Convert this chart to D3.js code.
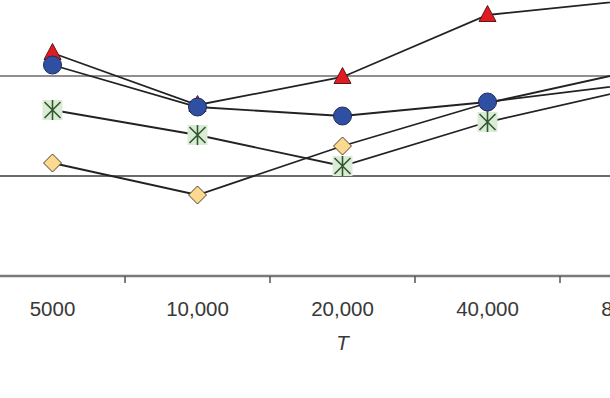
<!DOCTYPE html>
<html>
<head>
<meta charset="utf-8">
<script src="https://cdn.jsdelivr.net/npm/d3@7"></script>
<style>
  body { margin: 0; background: #fff; overflow: hidden; }
  svg { display: block; }
</style>
</head>
<body>
<script>
// categories on the x axis (T)
var categories = ["5000", "10,000", "20,000", "40,000", "80,000"];

// series values (y axis labels are cut off, units: gridline steps)
var triangleVals = [2.23, 1.71, 1.99, 2.61, 2.76];
var circleVals   = [2.11, 1.69, 1.60, 1.74, 1.92];
var starVals     = [1.66, 1.41, 1.10, 1.54, 1.87];
var diamondVals  = [1.13, 0.81, 1.30, 1.73, 2.05];

var gridVals = [1, 2];

var width = 610,
    height = 398;

var svg = d3.select("body").append("svg")
    .attr("width", width)
    .attr("height", height);

// the chart is cropped on the left and the right, so the band range runs past the frame
var x = d3.scaleBand()
    .domain(categories)
    .range([-20, 705]);

var y = d3.scaleLinear()
    .domain([0, 3])
    .range([276, -24]);

// gridlines
svg.selectAll("line.grid")
    .data(gridVals).enter()
    .append("line")
    .attr("class", "grid")
    .attr("x1", 0)
    .attr("x2", width)
    .attr("y1", function(d){ return y(d); })
    .attr("y2", function(d){ return y(d); })
    .attr("stroke", function(d){ return d == 2 ? "#6a6a6a" : "#3a3a3a"; })
    .attr("stroke-width", 1.7);

// x axis, ticks between categories
var bounds = categories.slice(1).map(function(c){ return x(c); });

svg.append("line")
    .attr("x1", 0)
    .attr("x2", width)
    .attr("y1", y(0))
    .attr("y2", y(0))
    .attr("stroke", "#7a7a7a")
    .attr("stroke-width", 2.4);

svg.selectAll("line.tick")
    .data(bounds).enter()
    .append("line")
    .attr("class", "tick")
    .attr("x1", function(d){ return d; })
    .attr("x2", function(d){ return d; })
    .attr("y1", y(0))
    .attr("y2", y(0) + 7)
    .attr("stroke", "#555")
    .attr("stroke-width", 1.5);

svg.selectAll("text.tlabel")
    .data(categories).enter()
    .append("text")
    .attr("class", "tlabel")
    .attr("x", function(d){ return x(d) + x.bandwidth() / 2; })
    .attr("y", 316)
    .attr("text-anchor", "middle")
    .style("font-family", "Liberation Sans, Arial, sans-serif")
    .style("font-size", "20.5px")
    .style("fill", "#383838")
    .text(function(d){ return d; });

svg.append("text")
    .attr("x", x("20,000") + x.bandwidth() / 2)
    .attr("y", 350)
    .attr("text-anchor", "middle")
    .style("font-family", "Liberation Sans, Arial, sans-serif")
    .style("font-size", "20.5px")
    .style("font-style", "italic")
    .style("fill", "#383838")
    .text("T");

var cx = function(d, i){ return x(categories[i]) + x.bandwidth() / 2; };

var line = d3.line()
    .x(cx)
    .y(function(d){ return y(d); });

var series = [
  { name: "star",     vals: starVals },
  { name: "diamond",  vals: diamondVals },
  { name: "triangle", vals: triangleVals },
  { name: "circle",   vals: circleVals }
];

// lines first
svg.selectAll("path.series")
    .data(series).enter()
    .append("path")
    .attr("class", "series")
    .attr("d", function(d){ return line(d.vals); })
    .attr("fill", "none")
    .attr("stroke", "#222")
    .attr("stroke-width", 1.8);

// markers
series.forEach(function(s){
  var g = svg.append("g");
  var pts = g.selectAll("g").data(s.vals).enter()
    .append("g")
    .attr("transform", function(d, i){ return "translate(" + cx(d, i) + "," + y(d) + ")"; });

  if(s.name == "circle"){
    pts.append("circle")
      .attr("r", 9)
      .attr("fill", "#2f4fa3")
      .attr("stroke", "#1f2a55")
      .attr("stroke-width", 1);
  } else if(s.name == "triangle"){
    pts.append("path")
      .attr("d", "M0,-9.5L8.5,6.5L-8.5,6.5Z")
      .attr("fill", "#e01b22")
      .attr("stroke", "#5a1a1a")
      .attr("stroke-width", 1);
  } else if(s.name == "diamond"){
    pts.append("path")
      .attr("d", "M0,-9L9,0L0,9L-9,0Z")
      .attr("fill", "#fcd98e")
      .attr("stroke", "#4a4030")
      .attr("stroke-width", 1);
  } else {
    pts.append("rect")
      .attr("x", -10).attr("y", -10)
      .attr("width", 20).attr("height", 20)
      .attr("fill", "#dcebd6");
    pts.append("path")
      .attr("d", "M-8,-8L8,8M8,-8L-8,8M0,-10L0,10")
      .attr("stroke", "#2e5a2e")
      .attr("stroke-width", 1.6);
  }
});
</script>
</body>
</html>
